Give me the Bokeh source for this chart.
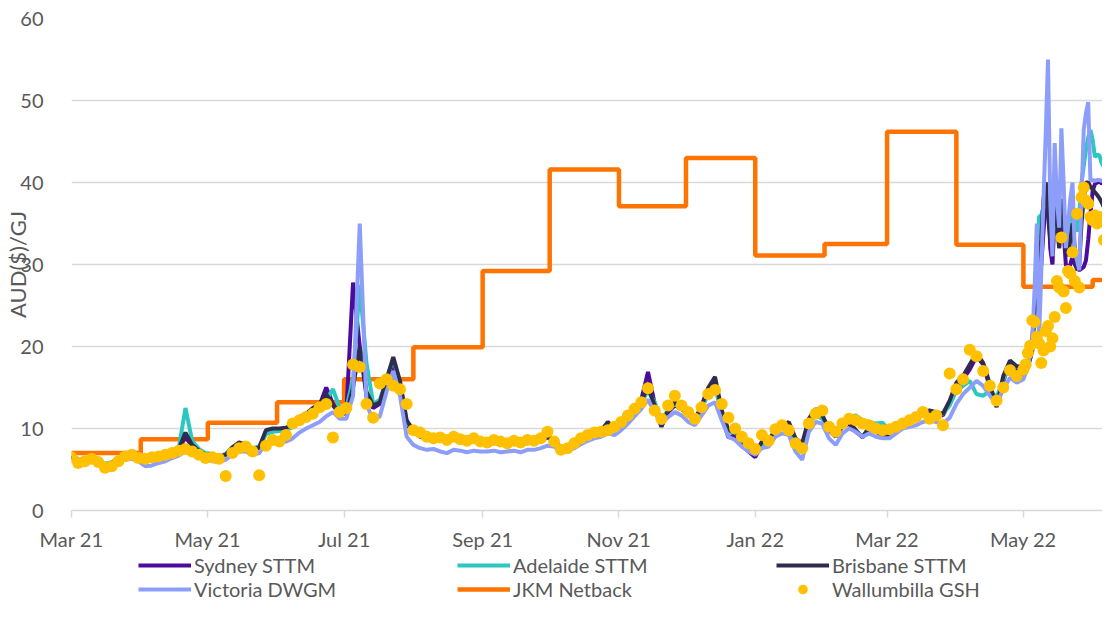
import numpy as np
import pandas as pd
from bokeh.plotting import figure
from bokeh.layouts import column
from bokeh.models import (ColumnDataSource, FixedTicker, DatetimeTickFormatter,
                          Legend, LegendItem, Range1d)
from bokeh.embed import file_html
from bokeh.resources import INLINE

# ---------------- data ----------------
# 3-day sampling Mar 2021 - Apr 2022, then daily May - Jun 2022
dates_3day = pd.date_range("2021-03-01", periods=142, freq="3D")
dates_daily = pd.date_range("2022-05-01", "2022-06-12", freq="D")
dates = list(dates_3day) + list(dates_daily)

sydney = (
    [6.6, 6.2, 6.1, 6.4, 6.0, 5.6, 5.8, 6.2, 6.5, 6.6, 6.5]            # Mar 21
    + [6.4, 6.5, 6.6, 6.9, 7.0, 7.4, 9.0, 7.8, 7.2, 6.8]             # Apr 21
    + [6.8, 6.5, 6.8, 7.6, 8.0, 7.8, 7.4, 7.6, 9.5, 9.8]             # May 21
    + [9.9, 10.0, 10.4, 11.2, 11.8, 12.3, 12.8, 15.0, 13.0, 12.0]    # Jun 21
    + [12.0, 27.8, 20.0, 14.0, 12.5, 13.0, 15.5, 18.0, 15.0, 10.5]   # Jul 21
    + [9.6, 9.0, 8.8, 8.7, 8.8, 8.5, 8.7, 8.6, 8.4, 8.5, 8.3]        # Aug 21
    + [8.2, 8.3, 8.0, 8.1, 8.2, 8.0, 8.3, 8.4, 8.5, 8.9]             # Sep 21
    + [8.5, 7.6, 7.8, 8.3, 8.8, 9.1, 9.4, 9.5, 10.4, 9.8]            # Oct 21
    + [10.5, 11.3, 12.2, 13.5, 16.9, 13.0, 10.3, 12.0, 12.8, 12.4]   # Nov 21
    + [11.6, 11.0, 12.4, 14.5, 15.8, 11.5, 8.9, 9.2, 8.0, 7.2]       # Dec 21
    + [6.5, 8.2, 8.4, 9.6, 10.0, 10.2, 8.4, 7.8, 10.8, 12.0, 11.4]   # Jan 22
    + [9.8, 9.0, 10.2, 10.6, 9.6, 9.0, 10.0, 9.6, 9.2]               # Feb 22
    + [9.2, 9.8, 10.4, 10.8, 11.2, 11.8, 12.0, 11.8, 11.6, 13.2]     # Mar 22
    + [15.2, 16.0, 17.2, 18.8, 17.8, 15.0, 12.8, 15.8, 18.0, 17.2]   # Apr 22
    + [16.5, 16.8, 17.5, 18.5, 21.0, 25.0, 27.0, 28.0, 30.0, 34.0, 38.0,
       40.0, 32.0, 30.0, 36.0, 40.0, 32.0, 36.0, 34.0, 30.0, 29.5, 30.0,
       31.0, 30.0, 29.5, 29.3, 29.5, 29.7, 30.5, 33.0, 36.2]          # May 22 daily
    + [39.0, 39.8, 40.0, 40.1, 39.9, 40.0, 40.2, 40.0, 39.9, 40.1, 40.0, 39.9]  # Jun 22
)

adelaide = (
    [6.7, 6.3, 6.2, 6.5, 6.1, 5.7, 5.9, 6.3, 6.6, 6.7, 6.6]
    + [6.5, 6.6, 6.7, 7.0, 7.2, 7.6, 12.5, 8.5, 7.5, 7.0]
    + [6.9, 6.6, 6.9, 7.7, 8.2, 8.0, 7.6, 7.8, 9.3, 9.6]
    + [9.7, 9.8, 10.2, 11.0, 11.6, 12.0, 12.6, 13.5, 14.8, 12.5]
    + [12.5, 16.0, 27.5, 18.0, 13.0, 13.5, 16.0, 18.5, 15.5, 10.8]
    + [9.7, 9.1, 8.9, 8.8, 8.9, 8.6, 8.8, 8.7, 8.5, 8.6, 8.4]
    + [8.3, 8.4, 8.1, 8.2, 8.3, 8.1, 8.4, 8.5, 8.6, 9.0]
    + [8.6, 7.7, 7.9, 8.4, 8.9, 9.2, 9.5, 9.6, 10.2, 9.9]
    + [10.6, 11.4, 12.3, 13.2, 14.6, 13.2, 11.0, 12.3, 13.0, 12.6]
    + [11.8, 11.2, 12.5, 14.2, 15.0, 12.0, 9.6, 9.5, 8.6, 7.8]
    + [7.2, 8.0, 8.3, 9.7, 10.1, 10.0, 8.6, 8.0, 10.6, 11.6, 11.2]
    + [10.0, 9.3, 10.4, 11.4, 11.6, 11.0, 10.8, 10.6, 10.7]
    + [9.8, 10.2, 10.6, 11.0, 11.3, 11.8, 11.9, 11.7, 11.8, 12.8]
    + [14.6, 15.2, 15.8, 14.2, 14.0, 14.6, 13.8, 16.0, 17.6, 17.6]
    + [17.0, 16.8, 17.5, 18.5, 20.0, 25.0, 30.0, 35.8, 36.0, 37.0, 38.0,
       40.0, 36.0, 33.0, 36.0, 35.0, 33.0, 36.0, 37.0, 33.0, 32.0, 34.0,
       37.0, 35.0, 34.0, 36.0, 40.0, 42.0, 44.0, 45.5, 46.4]
    + [45.2, 43.1, 43.4, 43.3, 42.4, 41.9, 42.3, 41.6, 41.1, 40.8, 40.4, 40.0]
)

brisbane = (
    [6.6, 6.1, 6.0, 6.4, 6.0, 5.5, 5.8, 6.2, 6.5, 6.6, 6.4]
    + [6.4, 6.5, 6.7, 7.0, 7.1, 7.5, 9.5, 8.0, 7.3, 6.8]
    + [6.8, 6.5, 6.8, 7.7, 8.3, 8.0, 7.4, 7.7, 9.8, 10.0]
    + [10.0, 10.1, 10.5, 11.4, 11.8, 12.5, 13.0, 14.2, 12.8, 11.8]
    + [11.8, 15.0, 20.0, 14.5, 12.8, 13.2, 16.0, 18.7, 15.8, 11.0]
    + [9.8, 9.2, 9.0, 8.8, 8.9, 8.6, 8.9, 8.7, 8.5, 8.6, 8.4]
    + [8.3, 8.4, 8.2, 8.2, 8.3, 8.1, 8.4, 8.5, 8.6, 9.0]
    + [8.6, 7.7, 7.9, 8.4, 8.9, 9.2, 9.5, 9.7, 10.8, 10.0]
    + [10.7, 11.5, 12.3, 13.4, 15.0, 12.8, 10.2, 12.2, 13.2, 12.6]
    + [11.7, 11.1, 12.8, 15.0, 16.3, 12.2, 9.8, 9.6, 8.5, 7.6]
    + [7.0, 8.4, 8.6, 9.8, 10.2, 10.8, 8.8, 8.2, 11.2, 12.4, 11.6]
    + [10.0, 9.3, 10.4, 10.8, 9.8, 8.9, 10.2, 9.8, 9.4]
    + [9.0, 9.9, 10.5, 11.0, 11.4, 12.0, 12.2, 12.0, 11.8, 13.4]
    + [15.6, 16.4, 17.8, 19.2, 18.0, 15.4, 12.6, 16.4, 18.3, 17.6]
    + [17.5, 17.2, 17.8, 18.5, 19.5, 24.0, 28.0, 30.0, 33.0, 38.0, 40.0,
       36.0, 33.0, 38.0, 40.0, 35.0, 32.0, 38.0, 36.0, 33.0, 31.0, 33.0,
       35.0, 32.0, 29.3, 30.0, 35.0, 38.0, 40.0, 40.0, 39.5]
    + [39.2, 38.8, 38.5, 38.1, 37.6, 37.0, 36.6, 36.1, 35.5, 35.1, 34.6, 34.0]
)

victoria = (
    [6.3, 5.8, 5.7, 6.0, 5.7, 5.3, 5.5, 5.9, 6.2, 6.3, 6.0]
    + [5.4, 5.5, 5.8, 6.0, 6.4, 6.7, 7.2, 7.0, 6.6, 6.2]
    + [6.0, 5.9, 6.2, 6.8, 7.2, 7.2, 6.8, 7.0, 8.2, 8.6]
    + [8.6, 8.4, 8.8, 9.5, 10.0, 10.4, 10.8, 11.5, 12.0, 11.2]
    + [11.2, 14.0, 35.0, 13.0, 11.0, 11.5, 14.5, 17.0, 14.0, 9.0]
    + [8.0, 7.6, 7.4, 7.5, 7.2, 7.0, 7.4, 7.3, 7.1, 7.3, 7.2]
    + [7.2, 7.3, 7.1, 7.2, 7.3, 7.1, 7.4, 7.4, 7.6, 7.9]
    + [7.8, 7.2, 7.3, 7.6, 8.1, 8.5, 8.8, 9.0, 9.4, 9.2]
    + [9.8, 10.6, 11.5, 12.4, 13.5, 12.0, 10.6, 11.4, 12.0, 11.6]
    + [10.8, 10.4, 11.6, 12.8, 13.2, 11.0, 9.0, 8.6, 7.8, 7.2]
    + [6.8, 7.6, 7.8, 9.0, 9.4, 9.2, 7.2, 6.2, 9.6, 10.8, 10.6]
    + [8.8, 8.0, 9.4, 10.0, 9.6, 9.0, 9.4, 9.0, 8.8]
    + [8.8, 9.4, 10.0, 10.2, 10.4, 10.8, 11.0, 10.8, 10.6, 11.3]
    + [13.0, 14.2, 15.0, 15.8, 15.2, 14.0, 13.0, 14.8, 16.2, 15.6]
    + [16.0, 16.8, 17.5, 19.0, 21.0, 27.0, 35.0, 20.8, 29.0, 38.0, 46.0,
       55.0, 38.0, 31.0, 44.8, 38.0, 34.5, 46.6, 40.0, 32.0, 35.0, 38.0,
       40.0, 31.4, 30.5, 29.3, 38.0, 46.4, 48.5, 49.8, 40.3]
    + [40.3, 40.2, 40.3, 40.3, 40.2, 40.3, 40.3, 40.2, 40.3, 40.3, 40.2, 40.3]
)

wallumbilla = (
    [6.5, 5.8, 6.0, 6.3, 5.9, 5.2, 5.4, 6.0, 6.6, 6.8, 6.4]
    + [6.3, 6.5, 6.6, 6.8, 7.0, 7.3, 7.5, 7.2, 6.8, 6.4]
    + [6.5, 6.3, 4.2, 7.0, 7.6, 7.8, 7.2, 4.3, 7.9, 8.6]
    + [8.4, 9.2, 10.6, 11.0, 11.4, 11.8, 12.6, 13.0, 8.9, 12.0]
    + [12.5, 17.8, 17.5, 13.0, 11.3, 15.5, 16.0, 15.2, 14.8, 13.0]
    + [9.8, 9.5, 9.0, 8.8, 8.9, 8.6, 9.0, 8.7, 8.5, 8.8, 8.4]
    + [8.3, 8.6, 8.4, 8.2, 8.5, 8.3, 8.6, 8.5, 8.8, 9.6]
    + [8.4, 7.4, 7.6, 8.2, 8.8, 9.2, 9.5, 9.6, 9.8, 10.2]
    + [10.8, 11.6, 12.4, 13.2, 14.9, 12.2, 11.2, 12.8, 14.0, 12.8]
    + [12.0, 11.2, 12.6, 14.2, 14.7, 13.0, 11.3, 10.0, 9.0, 8.2]
    + [7.5, 9.2, 8.5, 9.9, 10.4, 9.8, 8.2, 7.6, 10.6, 11.8, 12.2]
    + [10.2, 9.6, 10.6, 11.2, 11.0, 10.6, 10.4, 10.0, 9.8]
    + [9.9, 10.2, 10.6, 11.0, 11.4, 12.0, 11.2, 11.6, 10.4, 16.7]
    + [14.8, 16.0, 19.6, 18.8, 17.0, 15.2, 13.4, 15.0, 17.1, 16.4]
    + [17.2, 17.8, 19.2, 20.1, 23.2, 23.0, 21.2, 20.4, 18.0, 19.5, 21.9,
       22.5, 20.0, 21.0, 23.6, 28.0, 27.2, 33.3, 26.7, 24.7, 29.2, 28.9,
       31.5, 28.0, 36.2, 27.2, 38.2, 39.4, 37.8, 37.4, 35.8]
    + [35.4, 36.0, 35.0, 35.4, 35.8, 33.0, 35.8, 34.2, 34.5, 33.5, 32.0, 34.0]
)

# JKM Netback: monthly levels
jkm_months = ["2021-03-01", "2021-04-01", "2021-05-01", "2021-06-01",
              "2021-07-01", "2021-08-01", "2021-09-01", "2021-10-01",
              "2021-11-01", "2021-12-01", "2022-01-01", "2022-02-01",
              "2022-03-01", "2022-04-01", "2022-05-01", "2022-06-01",
              "2022-06-30"]
jkm_values = [7.0, 8.7, 10.7, 13.2, 16.0, 19.9, 29.2, 41.6, 37.1, 43.0,
              31.1, 32.5, 46.2, 32.4, 27.3, 28.1, 28.1]

tick_dates = ["2021-03-01", "2021-05-01", "2021-07-01", "2021-09-01",
              "2021-11-01", "2022-01-01", "2022-03-01", "2022-05-01"]
y_ticks = [0, 10, 20, 30, 40, 50, 60]

names = ["Sydney STTM", "Adelaide STTM", "Brisbane STTM",
         "Victoria DWGM", "JKM Netback", "Wallumbilla GSH"]
colors = {"Sydney STTM": "#4B0C9B", "Adelaide STTM": "#2CC8C0",
          "Brisbane STTM": "#2F2C4E", "Victoria DWGM": "#8C9EFA",
          "JKM Netback": "#FF7300", "Wallumbilla GSH": "#FFC000"}

# ---------------- main plot ----------------
n = min(len(dates), len(sydney), len(adelaide), len(brisbane),
        len(victoria), len(wallumbilla))
src = ColumnDataSource(dict(date=dates[:n], sydney=sydney[:n],
                            adelaide=adelaide[:n], brisbane=brisbane[:n],
                            victoria=victoria[:n], wallumbilla=wallumbilla[:n]))
jkm_src = ColumnDataSource(dict(date=pd.to_datetime(jkm_months), v=jkm_values))


def ms(s):
    return pd.Timestamp(s).value / 1e6


x_start = ms("2021-03-01")
x_end = x_start + 461.4 * 86400000

FONT = "Lato"
TXT = "#595959"
LW = 4

p = figure(width=1102, height=553, x_axis_type="datetime",
           x_range=Range1d(x_start, x_end), y_range=Range1d(0, 60),
           output_backend="svg", toolbar_location=None,
           min_border_left=71, min_border_right=0,
           min_border_top=18, min_border_bottom=43)
p.outline_line_color = None
p.background_fill_color = "white"
p.xgrid.visible = False
p.ygrid.grid_line_color = "#D9D9D9"
p.ygrid.grid_line_width = 1.5
p.ygrid.ticker = FixedTicker(ticks=y_ticks)

p.yaxis.ticker = FixedTicker(ticks=y_ticks)
p.yaxis.axis_line_color = None
p.yaxis.major_tick_line_color = None
p.yaxis.minor_tick_line_color = None
p.yaxis.major_label_standoff = 22
p.yaxis.major_label_text_font = FONT
p.yaxis.major_label_text_font_size = "20px"
p.yaxis.major_label_text_color = TXT
p.yaxis.axis_label = "AUD($)/GJ"
p.yaxis.axis_label_text_font = FONT
p.yaxis.axis_label_text_font_size = "22px"
p.yaxis.axis_label_text_font_style = "normal"
p.yaxis.axis_label_text_color = TXT
p.yaxis.axis_label_standoff = -14

fmt = "%b %y"
p.xaxis.ticker = FixedTicker(ticks=[ms(d) for d in tick_dates])
p.xaxis.formatter = DatetimeTickFormatter(
    milliseconds=fmt, seconds=fmt, minsec=fmt, minutes=fmt, hourmin=fmt,
    hours=fmt, days=fmt, months=fmt, years=fmt)
p.xaxis.axis_line_color = "#D9D9D9"
p.xaxis.axis_line_width = 1.5
p.xaxis.major_tick_line_color = "#D9D9D9"
p.xaxis.major_tick_line_width = 1.5
p.xaxis.major_tick_in = 0
p.xaxis.major_tick_out = 7
p.xaxis.minor_tick_line_color = None
p.xaxis.major_label_standoff = 9
p.xaxis.major_label_text_font = FONT
p.xaxis.major_label_text_font_size = "20px"
p.xaxis.major_label_text_color = TXT

p.step("date", "v", source=jkm_src, mode="after",
       line_color=colors["JKM Netback"], line_width=4.5)
p.line("date", "sydney", source=src, line_color=colors["Sydney STTM"], line_width=LW)
p.line("date", "adelaide", source=src, line_color=colors["Adelaide STTM"], line_width=LW)
p.line("date", "brisbane", source=src, line_color=colors["Brisbane STTM"], line_width=LW)
p.line("date", "victoria", source=src, line_color=colors["Victoria DWGM"], line_width=LW)
p.scatter("date", "wallumbilla", source=src, size=12,
          fill_color=colors["Wallumbilla GSH"], line_color=None)

# ---------------- legend strip ----------------
lg = figure(width=1102, height=48, x_range=Range1d(0, 1), y_range=Range1d(0, 1),
            output_backend="svg", toolbar_location=None,
            x_axis_location=None, y_axis_location=None,
            min_border=0, outline_line_color=None)
lg.grid.visible = False
# legend-only proxies: one NaN point each, nothing is drawn in the strip itself
proxy = ColumnDataSource(dict(x=np.array([0.5]), y=np.array([np.nan])))
legend_renderers = {}
for name in names:
    if name == "Wallumbilla GSH":
        legend_renderers[name] = lg.scatter("x", "y", source=proxy, size=8,
                                            fill_color=colors[name], line_color=None)
    else:
        legend_renderers[name] = lg.line("x", "y", source=proxy,
                                         line_color=colors[name],
                                         line_width=4.5 if name == "JKM Netback" else LW)


def make_legend(row_names, vy):
    return Legend(
        items=[LegendItem(label=nm, renderers=[legend_renderers[nm]]) for nm in row_names],
        orientation="horizontal", location=(67, vy),
        glyph_width=53, glyph_height=24, label_standoff=3,
        label_width=263, label_height=24, spacing=0,
        padding=0, margin=0, border_line_color=None,
        background_fill_alpha=0,
        label_text_font=FONT, label_text_font_size="20px",
        label_text_color=TXT)


lg.add_layout(make_legend(names[:3], 24))
lg.add_layout(make_legend(names[3:], 0))

open("out.html", "w").write(file_html(column(p, lg, spacing=0), INLINE))
